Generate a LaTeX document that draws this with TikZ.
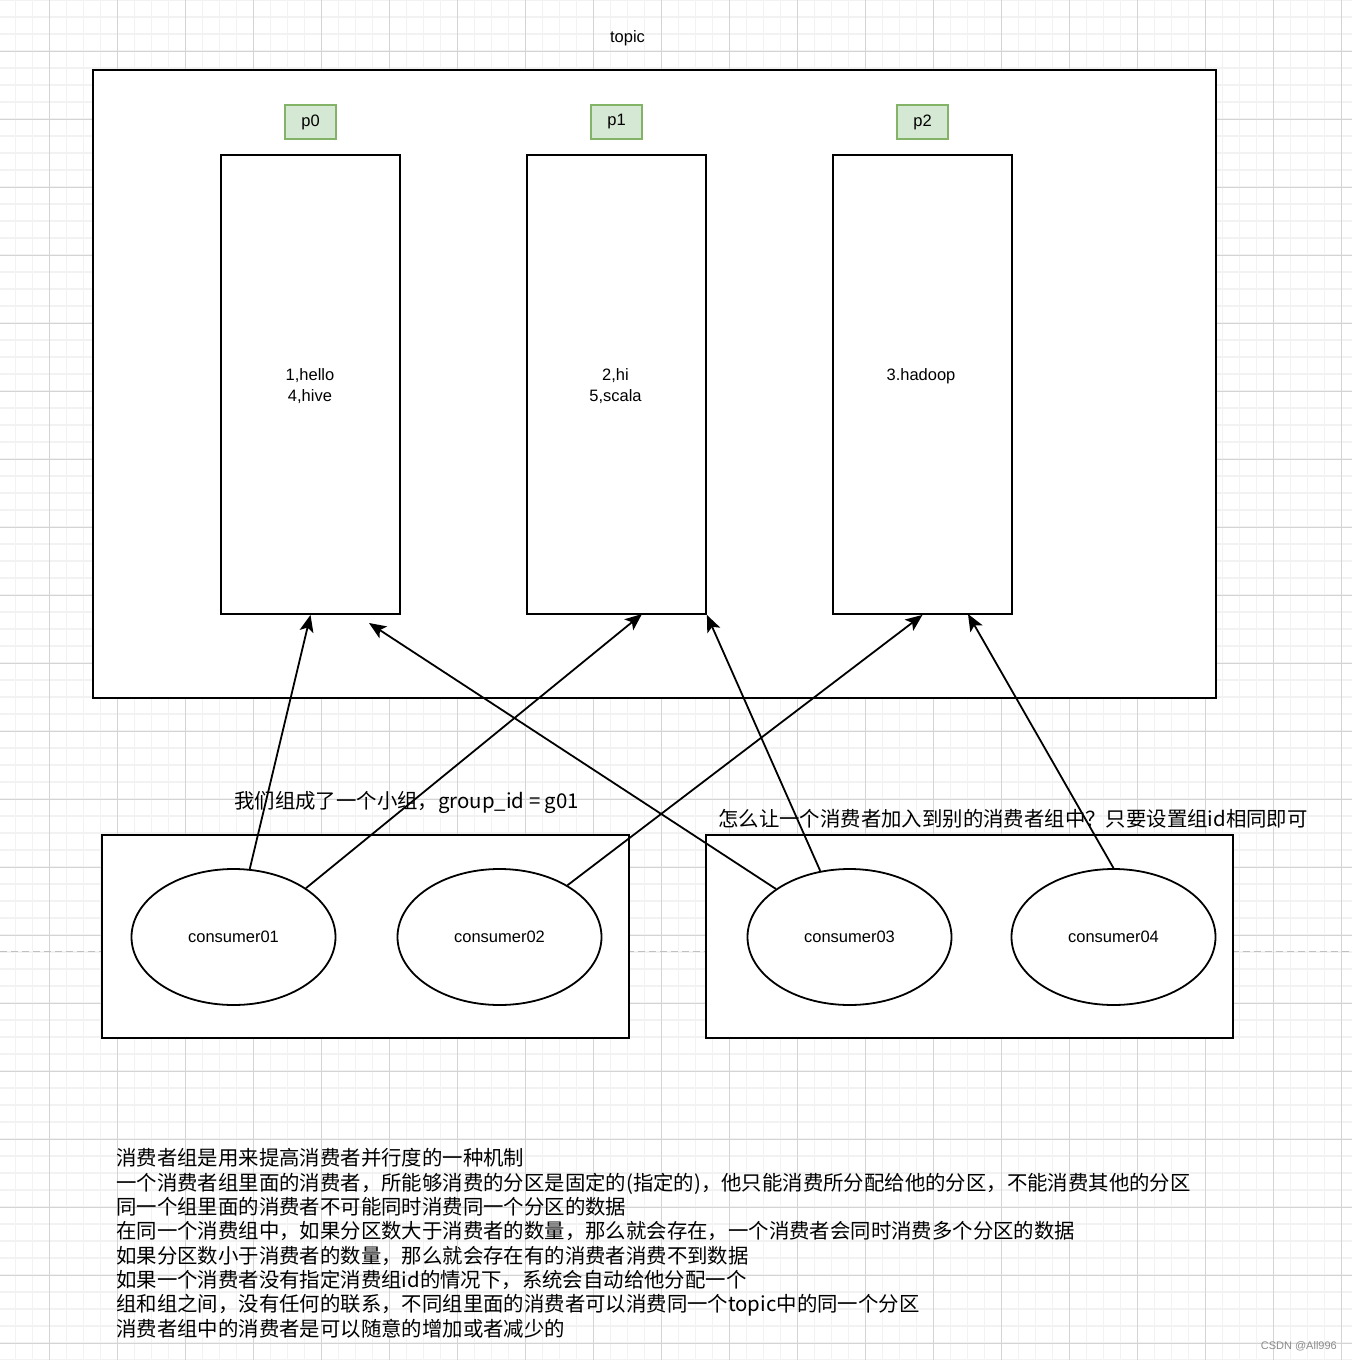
\documentclass[tikz,border=0pt]{standalone}
\usepackage{fontspec}
\setmainfont{Liberation Sans}
\newfontfamily\cjk{Noto Sans CJK SC}
\usetikzlibrary{shapes.geometric,arrows.meta}
\definecolor{gminor}{HTML}{F2F2F2}
\definecolor{gmajor}{HTML}{D4D4D4}
\definecolor{pfill}{HTML}{D5E8D4}
\definecolor{pdraw}{HTML}{82B366}
\definecolor{pagebrk}{HTML}{C0C0C0}
\tikzset{
  gridminorline/.style={gminor,line width=1.5pt},
  gridmajorline/.style={gmajor,line width=1pt},
  part/.style={draw=black,fill=white,line width=1.8pt,minimum width=179pt,minimum height=459pt,inner sep=0pt},
  plabel/.style={draw=pdraw,fill=pfill,line width=1.8pt,minimum width=51pt,minimum height=34pt,inner sep=0pt,font=\fontsize{16.5}{19}\selectfont},
  grp/.style={draw=black,fill=white,line width=1.8pt,minimum width=527pt,minimum height=203pt,inner sep=0pt},
  cons/.style={ellipse,draw=black,fill=white,line width=1.8pt,minimum width=204pt,minimum height=136pt,inner sep=0pt,font=\fontsize{16.5}{19}\selectfont},
  lbl/.style={inner sep=0pt,align=center,font=\fontsize{16.5}{21}\selectfont},
  cjklbl/.style={inner sep=0pt,font=\cjk\fontsize{20.4}{24.3}\selectfont},
  conn/.style={line width=1.8pt,-{Stealth[length=17pt,width=14pt,inset=4pt]}},
}
\begin{document}
\begin{tikzpicture}[x=1pt,y=-1pt]
\useasboundingbox (0,0) rectangle (1352,1360);
\fill[white] (0,0) rectangle (1352,1360);
% grid
\foreach \i in {0,...,79} {\draw[gridminorline] ({15.3+17*\i},0) -- ({15.3+17*\i},1360);}
\foreach \j in {0,...,80} {\draw[gridminorline] (0,{17*\j}) -- (1352,{17*\j});}
\foreach \i in {0,...,19} {\draw[gridmajorline] ({49.3+68*\i},0) -- ({49.3+68*\i},1360);}
\foreach \j in {0,...,19} {\draw[gridmajorline] (0,{51+68*\j}) -- (1352,{51+68*\j});}
% page break line
\draw[pagebrk,line width=1.5pt,dash pattern=on 7pt off 4pt] (0,951.5) -- (1352,951.5);
% topic
\node[lbl] (topiclbl) at (627.5,38) {topic};
\node[draw=black,fill=white,line width=1.8pt,minimum width=1123pt,minimum height=628pt,inner sep=0pt] (topic) at (654.5,384) {};
% partitions
\node[part] (r0) at (310.5,384.5) {};
\node[part] (r1) at (616.5,384.5) {};
\node[part] (r2) at (922.5,384.5) {};
\node[plabel] (p0) at (310.5,122) {p0};
\node[plabel] (p1) at (616.5,122) {p1};
\node[plabel] (p2) at (922.5,122) {p2};
\node[lbl] (t0) at (310,386.5) {1,hello\\4,hive};
\node[lbl] (t1) at (615.5,386.5) {2,hi\\5,scala};
\node[lbl] (t2) at (921,376) {3.hadoop};
% groups
\node[grp] (g1) at (365.5,936.5) {};
\node[grp] (g2) at (969.5,936.5) {};
\node[cons] (c1) at (233.5,937) {consumer01};
\node[cons] (c2) at (499.5,937) {consumer02};
\node[cons] (c3) at (849.5,937) {consumer03};
\node[cons] (c4) at (1113.5,937) {consumer04};
% texts
\node[cjklbl,anchor=west] (note1) at (234,802) {我们组成了一个小组，group\_id = g01};
\node[cjklbl,anchor=west] (note2) at (718,819) {怎么让一个消费者加入到别的消费者组中？只要设置组id相同即可};
\node[cjklbl,anchor=north west,align=left] (notes) at (116,1148.5) {消费者组是用来提高消费者并行度的一种机制\\
一个消费者组里面的消费者，所能够消费的分区是固定的(指定的)，他只能消费所分配给他的分区，不能消费其他的分区\\
同一个组里面的消费者不可能同时消费同一个分区的数据\\
在同一个消费组中，如果分区数大于消费者的数量，那么就会存在，一个消费者会同时消费多个分区的数据\\
如果分区数小于消费者的数量，那么就会存在有的消费者消费不到数据\\
如果一个消费者没有指定消费组id的情况下，系统会自动给他分配一个\\
组和组之间，没有任何的联系，不同组里面的消费者可以消费同一个topic中的同一个分区\\
消费者组中的消费者是可以随意的增加或者减少的};
\node[inner sep=0pt,anchor=east,text=black!45,font=\fontsize{11}{13}\selectfont] (wm) at (1337,1346) {CSDN @All996};
% arrow targets
\coordinate (a2) at (642,614);
\coordinate (a4) at (369,623);
\coordinate (a6) at (968,614);
% connectors
\draw[conn] (c1) -- (r0.south);
\draw[conn] (c1.34) -- (a2);
\draw[conn] (c2) -- (r2.south);
\draw[conn] (c3) -- (a4);
\draw[conn] (c3) -- (r1.south east);
\draw[conn] (c4.north) -- (a6);
\end{tikzpicture}
\end{document}
